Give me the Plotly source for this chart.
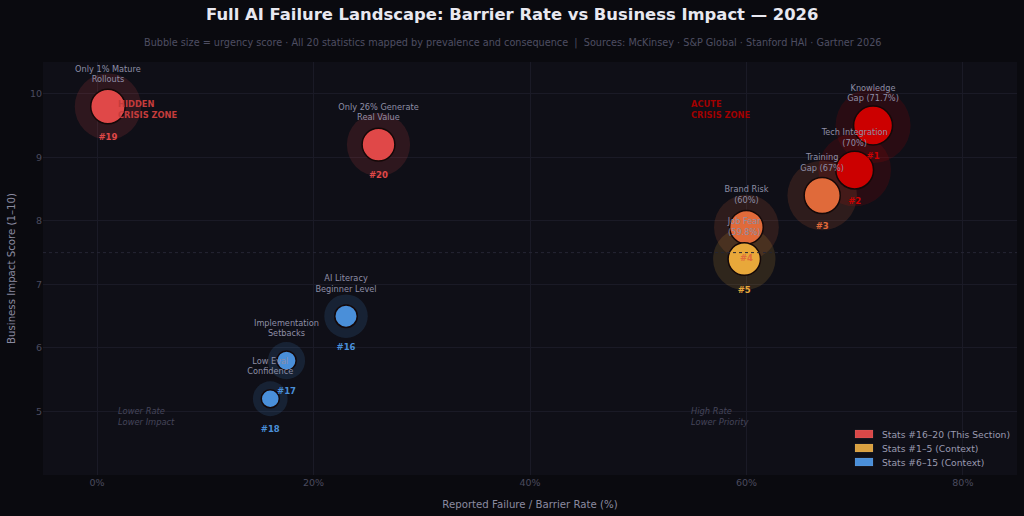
import plotly.graph_objects as go

# ---- data ----
ids = ["#1", "#2", "#3", "#4", "#5", "#16", "#17", "#18", "#19", "#20"]
labels = ["Knowledge<br>Gap (71.7%)", "Tech Integration<br>(70%)", "Training<br>Gap (67%)",
          "Brand Risk<br>(60%)", "Job Fear<br>(59.8%)", "AI Literacy<br>Beginner Level",
          "Implementation<br>Setbacks", "Low Eval<br>Confidence",
          "Only 1% Mature<br>Rollouts", "Only 26% Generate<br>Real Value"]
rate = [71.7, 70, 67, 60, 59.8, 23, 17.5, 16, 1, 26]
impact = [9.5, 8.8, 8.4, 7.9, 7.4, 6.5, 5.8, 5.2, 9.8, 9.2]
urgency = [9.5, 9.2, 8.8, 8.2, 7.9, 5.5, 4.7, 4.4, 8.4, 8.0]
colors = ["#cc0000", "#cc0000", "#e06a3a", "#e06a3a", "#e8a83a",
          "#4a8fd9", "#4a8fd9", "#4a8fd9", "#e04848", "#e04848"]
halo_colors = ["rgba(204,0,0,0.2)", "rgba(204,0,0,0.2)", "rgba(224,106,58,0.22)",
               "rgba(224,106,58,0.22)", "rgba(232,168,58,0.22)",
               "rgba(74,143,217,0.22)", "rgba(74,143,217,0.22)", "rgba(74,143,217,0.22)",
               "rgba(224,72,72,0.22)", "rgba(224,72,72,0.22)"]

legend_names = ["Stats #16–20 (This Section)", "Stats #1–5 (Context)", "Stats #6–15 (Context)"]
legend_colors = ["#d94848", "#d9a040", "#4a8fd9"]

title_text = "Full AI Failure Landscape: Barrier Rate vs Business Impact — 2026"
subtitle_text = ("Bubble size = urgency score · All 20 statistics mapped by prevalence and consequence  |  "
                 "Sources: McKinsey · S&P Global · Stanford HAI · Gartner 2026")

# layout geometry (pixels)
W, H = 1024, 516
ML, MR, MT, MB = 43, 7, 62, 41
PW, PH = W - ML - MR, H - MT - MB


def px(xp):
    return (xp - ML) / PW


def py(yp):
    return (H - MB - yp) / PH


fig = go.Figure()

halo_size = [u * 7.9 for u in urgency]
inner_size = [u * 4.1 for u in urgency]

# halos
fig.add_trace(go.Scatter(
    x=rate, y=impact, mode="markers", showlegend=False, hoverinfo="skip",
    marker=dict(size=halo_size, color=halo_colors, line=dict(width=0))))
# inner bubbles
fig.add_trace(go.Scatter(
    x=rate, y=impact, mode="markers", showlegend=False,
    hovertext=labels, hoverinfo="text",
    marker=dict(size=inner_size, color=colors, opacity=1,
                line=dict(width=1.5, color="#140808"))))
# name labels above (fixed offset via invisible markers)
fig.add_trace(go.Scatter(
    x=rate, y=impact, mode="markers+text", showlegend=False, hoverinfo="skip",
    text=labels, textposition="top center",
    textfont=dict(family="DejaVu Sans", size=8.2, color="#8e8ea6"),
    marker=dict(size=34, color="#000000", opacity=0, line=dict(width=0))))
# number labels below (fixed offset via invisible markers)
fig.add_trace(go.Scatter(
    x=rate, y=impact, mode="markers+text", showlegend=False, hoverinfo="skip",
    text=["<b>" + i + "</b>" for i in ids], textposition="bottom center",
    textfont=dict(family="DejaVu Sans", size=8.5, color=colors),
    marker=dict(size=42, color="#000000", opacity=0, line=dict(width=0))))

# quadrant reference line
fig.add_hline(y=7.5, line=dict(color="#262634", width=1, dash="dot"))

# zone annotations
ann = [
    dict(x=1.7, y=9.75, text="<b>HIDDEN<br>CRISIS ZONE</b>", color="#c43c3c"),
    dict(x=54.7, y=9.75, text="<b>ACUTE<br>CRISIS ZONE</b>", color="#a00000"),
    dict(x=1.7, y=4.92, text="<i>Lower Rate<br>Lower Impact</i>", color="#45455a"),
    dict(x=54.7, y=4.92, text="<i>High Rate<br>Lower Priority</i>", color="#45455a"),
]
for a in ann:
    fig.add_annotation(x=a["x"], y=a["y"], text=a["text"], showarrow=False,
                       xanchor="left", yanchor="middle", align="left",
                       font=dict(family="DejaVu Sans", size=8.3, color=a["color"]))

# title + subtitle
fig.add_annotation(x=px(512), y=py(15), xref="paper", yref="paper",
                   text="<b>" + title_text + "</b>", showarrow=False,
                   xanchor="center", yanchor="middle",
                   font=dict(family="DejaVu Sans", size=16.4, color="#e8e8f0"))
fig.add_annotation(x=px(512), y=py(43), xref="paper", yref="paper",
                   text=subtitle_text, showarrow=False, xanchor="center", yanchor="middle",
                   font=dict(family="DejaVu Sans", size=9.7, color="#4e4e62"))

# manual legend (compact rows)
for k, (n, c) in enumerate(zip(legend_names, legend_colors)):
    yc = 434 + 14 * k
    fig.add_shape(type="rect", xref="paper", yref="paper",
                  x0=px(855), x1=px(873), y0=py(yc + 4), y1=py(yc - 4),
                  fillcolor=c, line=dict(width=0.5, color="rgba(255,255,255,0.15)"))
    fig.add_annotation(x=px(880), y=py(yc), xref="paper", yref="paper", text=n,
                       showarrow=False, xanchor="left", yanchor="middle",
                       font=dict(family="DejaVu Sans", size=9.2, color="#9a9ab0"))

fig.update_layout(
    width=W, height=H,
    paper_bgcolor="#0a0a0f", plot_bgcolor="#0f0f17",
    margin=dict(l=ML, r=MR, t=MT, b=MB),
    font=dict(family="DejaVu Sans", color="#55556a"),
    showlegend=False,
    xaxis=dict(range=[-5, 85], tickvals=[0, 20, 40, 60, 80],
               ticktext=["0%", "20%", "40%", "60%", "80%"],
               gridcolor="#1a1a26", zeroline=False, showline=False,
               tickfont=dict(size=9.5, color="#4a4a5e"),
               title=dict(text="Reported Failure / Barrier Rate (%)",
                          font=dict(size=10.2, color="#8a8aa0"), standoff=14)),
    yaxis=dict(range=[4, 10.5], tickvals=[5, 6, 7, 8, 9, 10],
               gridcolor="#1a1a26", zeroline=False, showline=False,
               tickfont=dict(size=9.5, color="#4a4a5e"),
               title=dict(text="Business Impact Score (1–10)",
                          font=dict(size=10.2, color="#8a8aa0"), standoff=12)),
)

fig.write_html("out.html")
